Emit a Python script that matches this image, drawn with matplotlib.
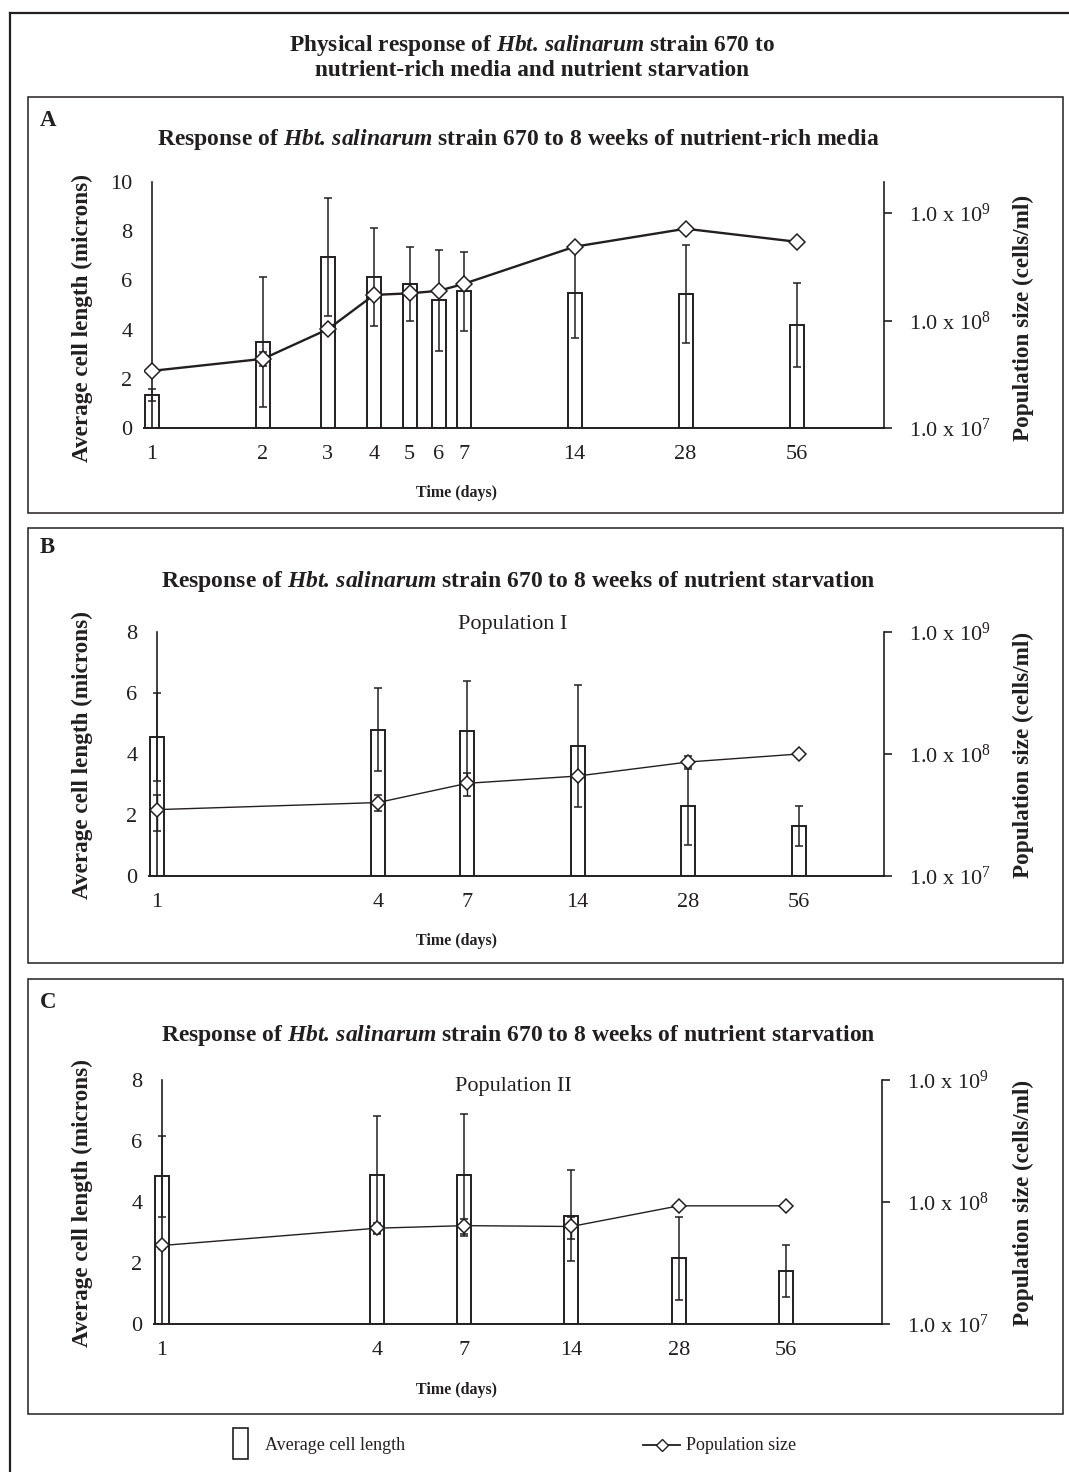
import matplotlib.pyplot as plt
import matplotlib.patches as mpatches
import matplotlib.lines as mlines
from matplotlib.ticker import FixedLocator, NullLocator
import numpy as np

plt.rcParams['font.family'] = ['Liberation Serif', 'DejaVu Serif']
plt.rcParams['mathtext.fontset'] = 'custom'
plt.rcParams['mathtext.rm'] = 'Liberation Serif'
plt.rcParams['mathtext.it'] = 'Liberation Serif:italic'
plt.rcParams['mathtext.bf'] = 'Liberation Serif:bold'
plt.rcParams['mathtext.bfit'] = 'Liberation Serif:italic:bold'

INK = '#231f20'

# ---- data ----
# A: nutrient-rich media
days_a = [1, 2, 3, 4, 5, 6, 7, 14, 28, 56]
len_a = [1.35, 3.5, 6.95, 6.15, 5.85, 5.2, 5.55, 5.5, 5.45, 4.2]
len_err_a = [0.25, 2.65, 2.4, 2.0, 1.5, 2.05, 1.6, 1.85, 2.0, 1.7]
pop_a = [3.4e7, 4.4e7, 8.3e7, 1.73e8, 1.79e8, 1.89e8, 2.19e8, 4.86e8, 7.14e8, 5.4e8]
pop_err_a = [2e6, 6.5e6, 5e6, 1.5e7, 1.5e7, 1.5e7, 1.5e7, 3e7, 4e7, 2e7]

# B: starvation, population I
days_b = [1, 4, 7, 14, 28, 56]
len_b = [4.55, 4.8, 4.75, 4.25, 2.3, 1.65]
len_err_b = [1.45, 1.35, 1.65, 2.0, 1.27, 0.65]
pop_b = [3.5e7, 4.0e7, 5.75e7, 6.6e7, 8.6e7, 1.0e8]
pop_err_b = [1.15e7, 6e6, 1.25e7, 4e6, 1.05e7, 3e6]

# C: starvation, population II
days_c = [1, 4, 7, 14, 28, 56]
len_c = [4.85, 4.9, 4.9, 3.55, 2.15, 1.75]
len_err_c = [1.33, 1.93, 2.0, 1.5, 1.37, 0.85]
pop_c = [4.4e7, 6.1e7, 6.4e7, 6.3e7, 9.3e7, 9.3e7]
pop_err_c = [3e6, 6.8e6, 9e6, 1.3e7, 4e6, 4e6]

pop_ticks = [1e7, 1e8, 1e9]
pop_labels = [r'1.0 x 10$^{7}$', r'1.0 x 10$^{8}$', r'1.0 x 10$^{9}$']

HBT = r'$\mathbfit{Hbt.}\,\mathbfit{salinarum}$'

W, H = 1069, 1472
fig = plt.figure(figsize=(W / 100, H / 100), dpi=100)


def fx(p):
    return p / W


def fy(p):
    return 1 - p / H


# outer frame (left + top) and panel boxes
fig.add_artist(mlines.Line2D([fx(10), fx(1069)], [fy(13), fy(13)], color=INK, lw=1.6))
fig.add_artist(mlines.Line2D([fx(10), fx(10)], [fy(13), fy(1472)], color=INK, lw=1.6))
for top, bot in [(97, 513), (528, 963), (979, 1414)]:
    fig.add_artist(mpatches.Rectangle((fx(28), fy(bot)), fx(1063 - 28), (bot - top) / H,
                                      fill=False, ec=INK, lw=1.1))

fig.text(fx(532), fy(45), 'Physical response of ' + HBT + ' strain 670 to',
         ha='center', va='center', fontsize=16.8, fontweight='bold', color=INK)
fig.text(fx(532), fy(70), 'nutrient-rich media and nutrient starvation',
         ha='center', va='center', fontsize=16.8, fontweight='bold', color=INK)


def panel(days, lens, lerr, pops, perr, x1, s, left, right, top, bot, ymax, yticks,
          pop_top, letter, ly, title, ty, tday, lab_y, lw_line, ms,
          pop_text=None, pty=None):
    ax = fig.add_axes([fx(left), fy(bot), fx(right - left), (bot - top) / H])
    ax.set_xscale('log', base=2)
    ax.set_xlim(2 ** ((left - x1) / s), 2 ** ((right - x1) / s))
    ax.set_ylim(0, ymax)
    d = np.array(days, dtype=float)
    w = 14 / s
    ax.bar(d * 2 ** (-w / 2), lens, width=d * (2 ** (w / 2) - 2 ** (-w / 2)), align='edge',
           color='white', edgecolor=INK, linewidth=1.4, zorder=2)
    ax.errorbar(d, lens, yerr=lerr, fmt='none', ecolor=INK, elinewidth=1.1,
                capsize=3, capthick=1.1, zorder=3)
    for side in ['top', 'right']:
        ax.spines[side].set_visible(False)
    ax.spines['left'].set_position(('data', 1))
    ax.spines['left'].set_color(INK)
    ax.spines['bottom'].set_color(INK)
    ax.spines['left'].set_linewidth(1.2)
    ax.spines['bottom'].set_linewidth(1.4)
    ax.xaxis.set_major_locator(FixedLocator(days))
    ax.xaxis.set_minor_locator(NullLocator())
    ax.set_xticklabels([str(v) for v in days])
    ax.set_yticks(yticks)
    ax.tick_params(axis='x', length=0, pad=12.5, labelsize=16, colors=INK)
    ax.tick_params(axis='y', length=0, pad=14, labelsize=16, colors=INK)

    ax2 = ax.twinx()
    ax2.set_yscale('log')
    ax2.set_ylim(1e7, pop_top)
    for side in ['top', 'left', 'bottom']:
        ax2.spines[side].set_visible(False)
    ax2.spines['right'].set_color(INK)
    ax2.spines['right'].set_linewidth(1.2)
    ax2.errorbar(d, pops, yerr=perr, color=INK, lw=lw_line, marker='D', ms=ms,
                 mfc='white', mec=INK, mew=1.1, elinewidth=1.0, capsize=3, capthick=1.0,
                 zorder=4)
    ax2.yaxis.set_major_locator(FixedLocator(pop_ticks))
    ax2.yaxis.set_minor_locator(NullLocator())
    ax2.set_yticklabels(pop_labels)
    ax2.tick_params(axis='y', length=6, width=1.2, pad=12, labelsize=16, colors=INK)

    fig.text(fx(40), fy(ly), letter, ha='left', va='center', fontsize=16.5,
             fontweight='bold', color=INK)
    fig.text(fx(518), fy(ty), title, ha='center', va='center', fontsize=17,
             fontweight='bold', color=INK)
    fig.text(fx(457), fy(tday), 'Time (days)', ha='center', va='center', fontsize=11.5,
             fontweight='bold', color=INK)
    fig.text(fx(82), fy(lab_y), 'Average cell length (microns)', rotation=90,
             ha='center', va='center', fontsize=16.7, fontweight='bold', color=INK)
    fig.text(fx(1023), fy(lab_y), 'Population size (cells/ml)', rotation=90,
             ha='center', va='center', fontsize=16.7, fontweight='bold', color=INK)
    if pop_text:
        fig.text(fx(513), fy(pty), pop_text, ha='center', va='center', fontsize=16,
                 color=INK)
    return ax


panel(days_a, len_a, len_err_a, pop_a, pop_err_a, 152, 111, 144, 884, 182, 428,
      10, [0, 2, 4, 6, 8, 10], 10 ** (7 + 246 / 107.5), 'A', 120,
      'Response of ' + HBT + ' strain 670 to 8 weeks of nutrient-rich media',
      140, 493, 318, 1.7, 8)

panel(days_b, len_b, len_err_b, pop_b, pop_err_b, 157, 110.5, 149, 884, 632, 876,
      8, [0, 2, 4, 6, 8], 1e9, 'B', 548,
      'Response of ' + HBT + ' strain 670 to 8 weeks of nutrient starvation',
      582, 941, 755, 1.0, 7, 'Population I', 624)

panel(days_c, len_c, len_err_c, pop_c, pop_err_c, 162, 107.5, 154, 882, 1080, 1324,
      8, [0, 2, 4, 6, 8], 1e9, 'C', 1002,
      'Response of ' + HBT + ' strain 670 to 8 weeks of nutrient starvation',
      1035, 1390, 1203, 1.0, 7, 'Population II', 1086)

# legend
fig.add_artist(mpatches.Rectangle((fx(233), fy(1459)), fx(15), 31 / H, fill=False,
                                  ec=INK, lw=1.2))
fig.text(fx(265), fy(1445), 'Average cell length', ha='left', va='center', fontsize=13,
         color=INK)
fig.add_artist(mlines.Line2D([fx(643), fx(680)], [fy(1445), fy(1445)], color=INK, lw=1.3))
fig.add_artist(mlines.Line2D([fx(661.5)], [fy(1445)], color=INK, marker='D', ms=6,
                             mfc='white', mec=INK, mew=1.0, lw=0))
fig.text(fx(686), fy(1445), 'Population size', ha='left', va='center', fontsize=13,
         color=INK)

fig.savefig('out.png', dpi=100, facecolor='white')
